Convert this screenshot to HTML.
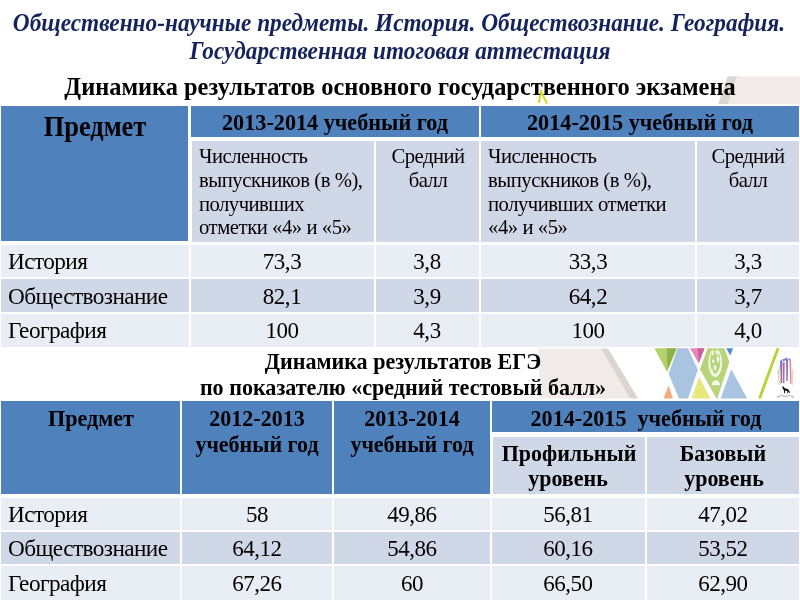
<!DOCTYPE html>
<html lang="ru"><head><meta charset="utf-8"><title>Динамика результатов</title>
<style>
html,body{margin:0;padding:0;}
body{width:800px;height:600px;position:relative;overflow:hidden;background:#fff;font-family:"Liberation Serif","DejaVu Serif",serif;color:#000;}
.c{position:absolute;}
.x{position:absolute;white-space:nowrap;line-height:0;}
.x i{display:inline-block;width:0;height:40px;}
.hd{background:#4f81bd;}
.l1{background:#d0d8e8;}
.l2{background:#e9edf4;}
</style></head><body>
<svg style="position:absolute;left:0;top:0" width="800" height="600" viewBox="0 0 800 600">
<!-- top right grey shape -->
<polygon points="737,76.2 800,76.2 800,104 728,104" fill="#f1ece9"/>
<polygon points="727.7,76.2 737,76.2 728,104 718.2,104" fill="#dcd6d2"/>
<!-- yellow mark -->
<path d="M538.8,103 L541,91.5 L547,103.5" fill="none" stroke="#d3d925" stroke-width="2.1"/>
<!-- band between tables -->
<polygon points="539,348.400 601,348.400 630,398.600 539,398.600" fill="#f0ebe8"/>
<polygon points="601,348.400 608,348.400 638,398.600 630,398.600" fill="#dbd5d1"/>
<polygon points="654.400,348.300 677,348.300 667,372" fill="#b5d16b"/>
<polygon points="667,348.300 676.400,348.300 667.400,370" fill="#8fb14a"/>
<polygon points="677.600,348.300 688,348.300 697.800,369.700 688,398.400 679,398.400 668.600,374" fill="#a9c4e0"/>
<polygon points="663.600,398.400 673,398.400 668.600,385.600" fill="#f4a97a"/>
<polygon points="690,348.300 704.600,348.300 698.700,363.300" fill="#e886b6"/>
<polygon points="697.800,348.300 704.600,348.300 698.700,363.300" fill="#c9639c"/>
<clipPath id="dm"><polygon points="707.400,348.300 724.300,348.300 729.400,362 717.300,398.400 716.500,398.400 700,369.300"/></clipPath>
<polygon points="707.400,348.300 724.300,348.300 729.400,362 717.300,398.400 716.500,398.400 700,369.300" fill="#b8d47a"/>
<g clip-path="url(#dm)">
<ellipse cx="715.200" cy="362.700" rx="6.900" ry="14.300" fill="#f4f8e8"/>
<ellipse cx="715.200" cy="361" rx="5.100" ry="12.400" fill="#b8d47a"/>
<path d="M711.500,352 l2,-1.500 l1,1 l-1,3 l-1.500,1z M715.500,350.500 l2.500,0 l1,3 l-1.500,2 l-1.500,-2z M716.500,357 l2,-1 l1,3 l-1,4 l-1.500,-2z M712,360 l1.500,-1 l1,2 l-1,2.500 l-1.200,-1z M713.500,366 l2,-1.500 l1,3 l-1,3.500 l-1.500,-2z M711.500,369 l1,0 l0.500,2 l-1,1z" fill="#f4f8e8"/>
<path d="M711.700,385.300 a4.200,5 0 0 1 8.400,0z" fill="#f4f8e8"/>
</g>
<polygon points="726.200,348.300 733,348.300 730.300,355.500" fill="#4a90cf"/>
<polygon points="691.400,398.400 710.600,398.400 699.200,377" fill="#e6e87c"/>
<polygon points="720.700,398.400 747.200,398.400 731.200,369.300" fill="#a9c4e0"/>
<polygon points="776.500,348.300 779.500,348.300 761,398.400 758,398.400" fill="#b5d334"/>
<!-- logo -->
<g>
<polygon points="780,361 782.200,359.500 782.200,383 780.600,383" fill="#6f7fc8"/>
<polygon points="782.200,359.500 787,357.500 788,359.500 783,361.500" fill="#7f86c9"/>
<polygon points="782.600,362.500 784.700,362 784.400,383 783,383" fill="#e0568f"/>
<polygon points="786,359.500 788,359.500 787.800,381 786.300,381" fill="#7d7cc4"/>
<polygon points="788,359.500 789.500,358 791,360 789.500,361" fill="#8f86c9"/>
<polygon points="789.500,361 791,360 791.600,384 790.300,384" fill="#e87aa6"/>
<polygon points="777.300,370 778.600,368.500 779.600,385 778.600,385" fill="#f5c79a"/>
<polygon points="792.300,368.500 793.600,370 792.600,385.500 791.800,385.500" fill="#f7cfa0"/>
<polygon points="779.200,366 780,365 781,384 780.200,384" fill="#a9d9a0"/>
<path d="M782.300,386.200 l1.200,0.300 l1.300,1.800 l2.800,0.600 l1.600,1.400 l0.800,2.600 l-0.700,0.200 l-0.900,-1.800 l-0.600,2 l-0.700,0 l0.100,-2.200 l-1.900,-0.600 l-0.500,2.700 l-0.700,0 l-0.100,-3 l-1,-1 l-0.500,-1.700z" fill="#111"/>
<path d="M777,397.600 l4.500,-2.200 l4,1.200 l4,-1.200 l4.500,2.200" fill="none" stroke="#8a8a8a" stroke-width="0.700"/>
<path d="M779.500,394.500 l-2.500,3 M791.500,394.500 l2.500,3" fill="none" stroke="#b0b0b0" stroke-width="0.500"/>
</g>
</svg>

<div class="x" style="top:-9.10px;font-size:25.42px;font-weight:bold;font-style:italic;color:#14235c;left:-101.30px;width:1000px;text-align:center;transform:scaleX(0.9174);transform-origin:50% 50%;"><i></i>Общественно-научные предметы. История. Обществознание. География.</div>
<div class="x" style="top:19.40px;font-size:25.34px;font-weight:bold;font-style:italic;color:#14235c;left:-100.50px;width:1000px;text-align:center;transform:scaleX(0.9174);transform-origin:50% 50%;"><i></i>Государственная итоговая аттестация</div>
<div class="x" style="top:54.50px;font-size:25.11px;font-weight:bold;left:-100.50px;width:1000px;text-align:center;transform:scaleX(0.9709);transform-origin:50% 50%;"><i></i>Динамика результатов основного государственного экзамена</div>
<div class="c hd" style="left:1.1px;top:105.75px;width:187.0px;height:135.45px"></div>
<div class="c hd" style="left:190.5px;top:105.75px;width:288.25px;height:31.25px"></div>
<div class="c hd" style="left:481.25px;top:105.75px;width:317.5px;height:31.25px"></div>
<div class="c l1" style="left:192px;top:141px;width:181.75px;height:101.2px"></div>
<div class="c l1" style="left:376px;top:141px;width:102.75px;height:101.2px"></div>
<div class="c l1" style="left:481.25px;top:141px;width:213.75px;height:101.2px"></div>
<div class="c l1" style="left:697.25px;top:141px;width:101.5px;height:101.2px"></div>
<div class="c l2" style="left:1.1px;top:244.5px;width:187.65px;height:32.5px"></div>
<div class="c l2" style="left:190.5px;top:244.5px;width:183.25px;height:32.5px"></div>
<div class="c l2" style="left:376px;top:244.5px;width:102.75px;height:32.5px"></div>
<div class="c l2" style="left:481.25px;top:244.5px;width:213.75px;height:32.5px"></div>
<div class="c l2" style="left:697.25px;top:244.5px;width:101.5px;height:32.5px"></div>
<div class="c l1" style="left:1.1px;top:279px;width:187.65px;height:32.8px"></div>
<div class="c l1" style="left:190.5px;top:279px;width:183.25px;height:32.8px"></div>
<div class="c l1" style="left:376px;top:279px;width:102.75px;height:32.8px"></div>
<div class="c l1" style="left:481.25px;top:279px;width:213.75px;height:32.8px"></div>
<div class="c l1" style="left:697.25px;top:279px;width:101.5px;height:32.8px"></div>
<div class="c l2" style="left:1.1px;top:314px;width:187.65px;height:32.5px"></div>
<div class="c l2" style="left:190.5px;top:314px;width:183.25px;height:32.5px"></div>
<div class="c l2" style="left:376px;top:314px;width:102.75px;height:32.5px"></div>
<div class="c l2" style="left:481.25px;top:314px;width:213.75px;height:32.5px"></div>
<div class="c l2" style="left:697.25px;top:314px;width:101.5px;height:32.5px"></div>
<div class="x" style="top:95.50px;font-size:28.51px;font-weight:bold;left:-404.80px;width:1000px;text-align:center;transform:scaleX(0.9259);transform-origin:50% 50%;"><i></i>Предмет</div>
<div class="x" style="top:89.50px;font-size:23.98px;font-weight:bold;left:-165.00px;width:1000px;text-align:center;transform:scaleX(0.9259);transform-origin:50% 50%;"><i></i>2013-2014 учебный год</div>
<div class="x" style="top:89.50px;font-size:23.98px;font-weight:bold;left:140.00px;width:1000px;text-align:center;transform:scaleX(0.9259);transform-origin:50% 50%;"><i></i>2014-2015 учебный год</div>
<div class="x" style="top:123.00px;font-size:20.98px;letter-spacing:-0.500px;left:198.50px;transform:scaleX(0.9859);transform-origin:0 50%;"><i></i>Численность</div>
<div class="x" style="top:146.80px;font-size:20.98px;letter-spacing:-0.461px;left:198.50px;transform:scaleX(0.9859);transform-origin:0 50%;"><i></i>выпускников (в %),</div>
<div class="x" style="top:170.60px;font-size:20.98px;letter-spacing:-0.533px;left:198.50px;transform:scaleX(0.9859);transform-origin:0 50%;"><i></i>получивших</div>
<div class="x" style="top:194.40px;font-size:20.98px;letter-spacing:-0.455px;left:198.50px;transform:scaleX(0.9859);transform-origin:0 50%;"><i></i>отметки «4» и «5»</div>
<div class="x" style="top:123.00px;font-size:20.98px;letter-spacing:-0.530px;left:-72.50px;width:1000px;text-align:center;transform:scaleX(0.9859);transform-origin:50% 50%;"><i></i>Средний</div>
<div class="x" style="top:146.80px;font-size:20.98px;letter-spacing:-0.489px;left:-72.50px;width:1000px;text-align:center;transform:scaleX(0.9859);transform-origin:50% 50%;"><i></i>балл</div>
<div class="x" style="top:123.00px;font-size:20.98px;letter-spacing:-0.500px;left:488.00px;transform:scaleX(0.9859);transform-origin:0 50%;"><i></i>Численность</div>
<div class="x" style="top:146.80px;font-size:20.98px;letter-spacing:-0.461px;left:488.00px;transform:scaleX(0.9859);transform-origin:0 50%;"><i></i>выпускников (в %),</div>
<div class="x" style="top:170.60px;font-size:20.98px;letter-spacing:-0.502px;left:488.00px;transform:scaleX(0.9859);transform-origin:0 50%;"><i></i>получивших отметки</div>
<div class="x" style="top:194.40px;font-size:20.98px;letter-spacing:-0.448px;left:488.00px;transform:scaleX(0.9859);transform-origin:0 50%;"><i></i>«4» и «5»</div>
<div class="x" style="top:123.00px;font-size:20.98px;letter-spacing:-0.530px;left:247.50px;width:1000px;text-align:center;transform:scaleX(0.9859);transform-origin:50% 50%;"><i></i>Средний</div>
<div class="x" style="top:146.80px;font-size:20.98px;letter-spacing:-0.489px;left:247.50px;width:1000px;text-align:center;transform:scaleX(0.9859);transform-origin:50% 50%;"><i></i>балл</div>
<div class="x" style="top:228.70px;font-size:23.59px;letter-spacing:-0.575px;left:7.70px;transform:scaleX(0.9859);transform-origin:0 50%;"><i></i>История</div>
<div class="x" style="top:228.70px;font-size:23.32px;letter-spacing:-0.486px;left:-217.88px;width:1000px;text-align:center;transform:scaleX(0.9859);transform-origin:50% 50%;"><i></i>73,3</div>
<div class="x" style="top:228.70px;font-size:23.32px;letter-spacing:-0.463px;left:-72.62px;width:1000px;text-align:center;transform:scaleX(0.9859);transform-origin:50% 50%;"><i></i>3,8</div>
<div class="x" style="top:228.70px;font-size:23.32px;letter-spacing:-0.486px;left:88.12px;width:1000px;text-align:center;transform:scaleX(0.9859);transform-origin:50% 50%;"><i></i>33,3</div>
<div class="x" style="top:228.70px;font-size:23.32px;letter-spacing:-0.463px;left:248.00px;width:1000px;text-align:center;transform:scaleX(0.9859);transform-origin:50% 50%;"><i></i>3,3</div>
<div class="x" style="top:263.50px;font-size:23.59px;letter-spacing:-0.578px;left:7.70px;transform:scaleX(0.9859);transform-origin:0 50%;"><i></i>Обществознание</div>
<div class="x" style="top:263.50px;font-size:23.32px;letter-spacing:-0.486px;left:-217.88px;width:1000px;text-align:center;transform:scaleX(0.9859);transform-origin:50% 50%;"><i></i>82,1</div>
<div class="x" style="top:263.50px;font-size:23.32px;letter-spacing:-0.463px;left:-72.62px;width:1000px;text-align:center;transform:scaleX(0.9859);transform-origin:50% 50%;"><i></i>3,9</div>
<div class="x" style="top:263.50px;font-size:23.32px;letter-spacing:-0.486px;left:88.12px;width:1000px;text-align:center;transform:scaleX(0.9859);transform-origin:50% 50%;"><i></i>64,2</div>
<div class="x" style="top:263.50px;font-size:23.32px;letter-spacing:-0.463px;left:248.00px;width:1000px;text-align:center;transform:scaleX(0.9859);transform-origin:50% 50%;"><i></i>3,7</div>
<div class="x" style="top:298.00px;font-size:23.59px;letter-spacing:-0.555px;left:7.70px;transform:scaleX(0.9859);transform-origin:0 50%;"><i></i>География</div>
<div class="x" style="top:298.00px;font-size:23.32px;letter-spacing:-0.555px;left:-217.88px;width:1000px;text-align:center;transform:scaleX(0.9859);transform-origin:50% 50%;"><i></i>100</div>
<div class="x" style="top:298.00px;font-size:23.32px;letter-spacing:-0.463px;left:-72.62px;width:1000px;text-align:center;transform:scaleX(0.9859);transform-origin:50% 50%;"><i></i>4,3</div>
<div class="x" style="top:298.00px;font-size:23.32px;letter-spacing:-0.555px;left:88.12px;width:1000px;text-align:center;transform:scaleX(0.9859);transform-origin:50% 50%;"><i></i>100</div>
<div class="x" style="top:298.00px;font-size:23.32px;letter-spacing:-0.463px;left:248.00px;width:1000px;text-align:center;transform:scaleX(0.9859);transform-origin:50% 50%;"><i></i>4,0</div>
<div class="x" style="top:328.75px;font-size:23.87px;font-weight:bold;left:-97.50px;width:1000px;text-align:center;transform:scaleX(0.9259);transform-origin:50% 50%;"><i></i>Динамика результатов ЕГЭ</div>
<div class="x" style="top:354.50px;font-size:23.87px;font-weight:bold;left:-97.50px;width:1000px;text-align:center;transform:scaleX(0.9259);transform-origin:50% 50%;"><i></i>по показателю «средний тестовый балл»</div>
<div class="c hd" style="left:1.1px;top:400.9px;width:178.5px;height:92.85px"></div>
<div class="c hd" style="left:181.5px;top:400.9px;width:150.5px;height:92.85px"></div>
<div class="c hd" style="left:334.25px;top:400.9px;width:155.35px;height:92.85px"></div>
<div class="c hd" style="left:492.25px;top:400.9px;width:306.5px;height:31.1px"></div>
<div class="c l1" style="left:493.25px;top:437px;width:151.25px;height:56.75px"></div>
<div class="c l1" style="left:646.75px;top:437px;width:152.0px;height:56.75px"></div>
<div class="c l2" style="left:1.1px;top:497.5px;width:178.5px;height:32.1px"></div>
<div class="c l2" style="left:181.5px;top:497.5px;width:150.5px;height:32.1px"></div>
<div class="c l2" style="left:334.25px;top:497.5px;width:156.0px;height:32.1px"></div>
<div class="c l2" style="left:492.25px;top:497.5px;width:152.25px;height:32.1px"></div>
<div class="c l2" style="left:646.75px;top:497.5px;width:152.0px;height:32.1px"></div>
<div class="c l1" style="left:1.1px;top:531.7px;width:178.5px;height:32.1px"></div>
<div class="c l1" style="left:181.5px;top:531.7px;width:150.5px;height:32.1px"></div>
<div class="c l1" style="left:334.25px;top:531.7px;width:156.0px;height:32.1px"></div>
<div class="c l1" style="left:492.25px;top:531.7px;width:152.25px;height:32.1px"></div>
<div class="c l1" style="left:646.75px;top:531.7px;width:152.0px;height:32.1px"></div>
<div class="c l2" style="left:1.1px;top:566.2px;width:178.5px;height:33.8px"></div>
<div class="c l2" style="left:181.5px;top:566.2px;width:150.5px;height:33.8px"></div>
<div class="c l2" style="left:334.25px;top:566.2px;width:156.0px;height:33.8px"></div>
<div class="c l2" style="left:492.25px;top:566.2px;width:152.25px;height:33.8px"></div>
<div class="c l2" style="left:646.75px;top:566.2px;width:152.0px;height:33.8px"></div>
<div class="x" style="top:385.60px;font-size:23.87px;font-weight:bold;left:-409.50px;width:1000px;text-align:center;transform:scaleX(0.9259);transform-origin:50% 50%;"><i></i>Предмет</div>
<div class="x" style="top:385.60px;font-size:23.76px;font-weight:bold;left:-243.50px;width:1000px;text-align:center;transform:scaleX(0.9259);transform-origin:50% 50%;"><i></i>2012-2013</div>
<div class="x" style="top:412.00px;font-size:23.76px;font-weight:bold;left:-243.30px;width:1000px;text-align:center;transform:scaleX(0.9259);transform-origin:50% 50%;"><i></i>учебный год</div>
<div class="x" style="top:385.60px;font-size:23.76px;font-weight:bold;left:-88.00px;width:1000px;text-align:center;transform:scaleX(0.9259);transform-origin:50% 50%;"><i></i>2013-2014</div>
<div class="x" style="top:412.00px;font-size:23.76px;font-weight:bold;left:-88.00px;width:1000px;text-align:center;transform:scaleX(0.9259);transform-origin:50% 50%;"><i></i>учебный год</div>
<div class="x" style="top:385.60px;font-size:23.92px;font-weight:bold;white-space:pre;left:146.00px;width:1000px;text-align:center;transform:scaleX(0.9259);transform-origin:50% 50%;"><i></i>2014-2015  учебный год</div>
<div class="x" style="top:420.50px;font-size:23.76px;font-weight:bold;left:68.50px;width:1000px;text-align:center;transform:scaleX(0.9259);transform-origin:50% 50%;"><i></i>Профильный</div>
<div class="x" style="top:445.50px;font-size:23.76px;font-weight:bold;left:68.00px;width:1000px;text-align:center;transform:scaleX(0.9259);transform-origin:50% 50%;"><i></i>уровень</div>
<div class="x" style="top:420.50px;font-size:23.76px;font-weight:bold;left:223.00px;width:1000px;text-align:center;transform:scaleX(0.9259);transform-origin:50% 50%;"><i></i>Базовый</div>
<div class="x" style="top:445.50px;font-size:23.76px;font-weight:bold;left:223.50px;width:1000px;text-align:center;transform:scaleX(0.9259);transform-origin:50% 50%;"><i></i>уровень</div>
<div class="x" style="top:482.00px;font-size:23.59px;letter-spacing:-0.575px;left:7.70px;transform:scaleX(0.9859);transform-origin:0 50%;"><i></i>История</div>
<div class="x" style="top:482.00px;font-size:23.32px;letter-spacing:-0.555px;left:-243.25px;width:1000px;text-align:center;transform:scaleX(0.9859);transform-origin:50% 50%;"><i></i>58</div>
<div class="x" style="top:482.00px;font-size:23.32px;letter-spacing:-0.500px;left:-87.75px;width:1000px;text-align:center;transform:scaleX(0.9859);transform-origin:50% 50%;"><i></i>49,86</div>
<div class="x" style="top:482.00px;font-size:23.32px;letter-spacing:-0.500px;left:68.38px;width:1000px;text-align:center;transform:scaleX(0.9859);transform-origin:50% 50%;"><i></i>56,81</div>
<div class="x" style="top:482.00px;font-size:23.32px;letter-spacing:-0.500px;left:222.75px;width:1000px;text-align:center;transform:scaleX(0.9859);transform-origin:50% 50%;"><i></i>47,02</div>
<div class="x" style="top:516.20px;font-size:23.59px;letter-spacing:-0.578px;left:7.70px;transform:scaleX(0.9859);transform-origin:0 50%;"><i></i>Обществознание</div>
<div class="x" style="top:516.20px;font-size:23.32px;letter-spacing:-0.500px;left:-243.25px;width:1000px;text-align:center;transform:scaleX(0.9859);transform-origin:50% 50%;"><i></i>64,12</div>
<div class="x" style="top:516.20px;font-size:23.32px;letter-spacing:-0.500px;left:-87.75px;width:1000px;text-align:center;transform:scaleX(0.9859);transform-origin:50% 50%;"><i></i>54,86</div>
<div class="x" style="top:516.20px;font-size:23.32px;letter-spacing:-0.500px;left:68.38px;width:1000px;text-align:center;transform:scaleX(0.9859);transform-origin:50% 50%;"><i></i>60,16</div>
<div class="x" style="top:516.20px;font-size:23.32px;letter-spacing:-0.500px;left:222.75px;width:1000px;text-align:center;transform:scaleX(0.9859);transform-origin:50% 50%;"><i></i>53,52</div>
<div class="x" style="top:551.00px;font-size:23.59px;letter-spacing:-0.555px;left:7.70px;transform:scaleX(0.9859);transform-origin:0 50%;"><i></i>География</div>
<div class="x" style="top:551.00px;font-size:23.32px;letter-spacing:-0.500px;left:-243.25px;width:1000px;text-align:center;transform:scaleX(0.9859);transform-origin:50% 50%;"><i></i>67,26</div>
<div class="x" style="top:551.00px;font-size:23.32px;letter-spacing:-0.555px;left:-87.75px;width:1000px;text-align:center;transform:scaleX(0.9859);transform-origin:50% 50%;"><i></i>60</div>
<div class="x" style="top:551.00px;font-size:23.32px;letter-spacing:-0.500px;left:68.38px;width:1000px;text-align:center;transform:scaleX(0.9859);transform-origin:50% 50%;"><i></i>66,50</div>
<div class="x" style="top:551.00px;font-size:23.32px;letter-spacing:-0.500px;left:222.75px;width:1000px;text-align:center;transform:scaleX(0.9859);transform-origin:50% 50%;"><i></i>62,90</div>
</body></html>
